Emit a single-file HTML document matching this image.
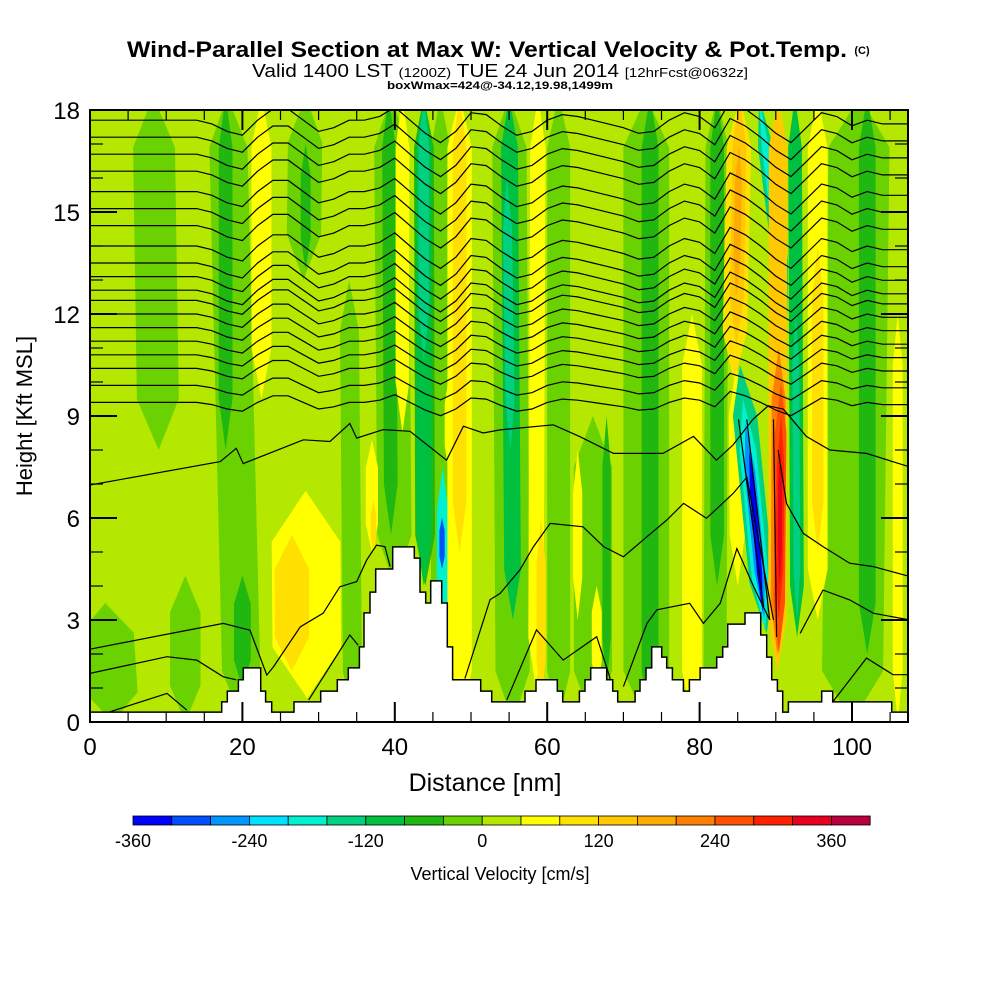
<!DOCTYPE html>
<html><head><meta charset="utf-8"><style>
html,body{margin:0;padding:0;background:#fff;}
svg{display:block;font-family:"Liberation Sans",sans-serif;}
</style></head><body>
<svg id="chart" width="1000" height="1000" viewBox="0 0 1000 1000" xmlns="http://www.w3.org/2000/svg">
<rect x="0" y="0" width="1000" height="1000" fill="#fff"/>
<g>
<text x="487" y="57" text-anchor="middle" font-size="22" font-weight="bold" textLength="720" lengthAdjust="spacingAndGlyphs">Wind-Parallel Section at Max W: Vertical Velocity &amp; Pot.Temp.</text>
<text x="862" y="54" text-anchor="middle" font-size="11" font-weight="bold">(C)</text>
<text x="500" y="77" text-anchor="middle" font-size="18" textLength="496" lengthAdjust="spacingAndGlyphs">Valid 1400 LST <tspan font-size="13">(1200Z)</tspan> TUE 24 Jun 2014 <tspan font-size="13">[12hrFcst@0632z]</tspan></text>
<text x="500" y="89" text-anchor="middle" font-size="11" font-weight="bold" textLength="226" lengthAdjust="spacingAndGlyphs">boxWmax=424@-34.12,19.98,1499m</text>
</g>
<defs><clipPath id="plotclip"><rect x="90" y="110" width="818" height="612"/></clipPath></defs>
<g id="field" clip-path="url(#plotclip)"></g>
<g id="contours" clip-path="url(#plotclip)"></g>
<g id="terrain" clip-path="url(#plotclip)"></g>
<g id="axes"></g>
<g id="colorbar"></g>
<text x="485" y="791" text-anchor="middle" font-size="25">Distance [nm]</text>
<text transform="translate(32,416) rotate(-90)" text-anchor="middle" font-size="22">Height [Kft MSL]</text>
<text x="500" y="880" text-anchor="middle" font-size="18">Vertical Velocity [cm/s]</text>
</svg>
<script>
// ---- data ----
const binColors = ["#0000ff","#0050ff","#0096ff","#00e1ff","#00f0d0","#00d080","#00c040","#20b810","#6ad200","#b4e800","#ffff00","#ffe000","#ffc800","#ffaa00","#ff8000","#ff5000","#ff2000","#e80020","#b80040"];
const binMin = -360, binStep = 40;
const cbTicks = [-360,-240,-120,0,120,240,360];
const xTicks = [0,20,40,60,80,100];
const yTicks = [0,3,6,9,12,15,18];
const backgroundW = 20;
// streak features: [xBottom nm, yBottom kft, xTop nm, yTop kft, width nm, w cm/s]
const streaks = [
 [9,8,8.3,18.4,5.5,-20],[3,0,2,3.5,7,-20],[12.5,0,12.5,4.3,4,-20],[20,0,18,18.4,5,-20],
 [28,13,28.3,18.4,4.5,-20],[34.5,0,34,13,2.5,-20],[40,4,39.5,18.4,4.5,-20],[46,0,46,18.4,2.5,-20],
 [55.5,0,55,18.4,4.5,-20],[61.5,0,61.5,18.4,3,-20],[73,0,73,18.4,6,-20],[82,0,82.3,18.4,3,-20],
 [100,0,101,18.4,8,-20],[66,0,66,9,5,-20],
 [73.5,0,73.5,18.4,2.2,-60],[82.3,4,82.3,18.4,1.8,-60],[102,2,102,18.4,2.2,-60],
 [17.8,8,17.8,18.4,1.8,-60],[20,1,20,4.3,2.2,-60],[28.3,13.3,28.3,17,1.3,-60],
 [39.5,5.5,39.2,18.4,1.8,-60],[44,4,43.8,18.4,2.6,-60],[67.8,1,67.8,9,1.1,-60],
 [43.8,4,43.8,18.4,2,-100],[43.8,10.6,43.8,18.4,1.4,-140],
 [55.5,3,55,18.4,2.2,-100],[55.2,8,54.7,16,1.2,-140],
 [46.2,2.5,46.3,7.5,1.5,-200],[46.2,4.5,46.2,6,0.7,-300],
 [22.5,9.5,22.5,18.4,2.6,60],[41,8.5,41,18.4,1.8,60],[48.5,0,48.5,18.4,3.2,60],[48.5,5,48.5,18.4,1.8,100],
 [58.5,1,58.8,18.4,2,60],[59.2,0.5,59.2,6,1.2,100],[79,0,79,12,2.6,60],[64,3,64,8,1.2,60],
 [85,4,84.8,10.5,2,60],[95.5,3,95.5,18.4,2.6,60],[95.5,5,95.5,14,1.5,100],[106,0,106,12,1.3,60],
 [37,5,37,8.3,1.6,60],[37.2,5,37.2,6.5,0.7,100],[28.5,0.7,28.3,6.8,9,60],[26.5,1.5,26.5,5.5,4.5,100],
 [47,7.5,47,10,0.9,60],[66.5,1,66.5,4,1.3,60],
 [84.5,10,85.3,18.4,3.2,100],[84.8,11,85.3,18.4,1.8,140],[84.8,12.5,85.2,17,0.9,180],
 [92.8,2.5,92.5,18.4,1.8,-100],[92.8,3,92.6,12,0.9,-140],
 [91.5,12,87.8,18.4,2,-140],[91,12.5,87.8,18.4,0.9,-200],
 [88.8,2.6,85.3,10.5,3.2,-140],[88.6,2.7,85.7,9.5,2.2,-200],[88.5,3,86,8.8,1.4,-260],[88.3,3.2,86.5,8,0.7,-340],
 [90.2,1.5,90.3,18.4,2.4,140],[90.2,2,90.4,11,1.8,200],[90.4,2,90.7,10,1.5,260],[90.4,3,90.7,9,1,300],[90.5,4,90.6,8,0.5,340]
];
// potential temperature contours: upper levels (kft at left edge) + displacement profile
const upperLevels = [17.7,17.2,16.7,16.2,15.6,15.1,14.6,14.0,13.5,13.1,12.7,12.4,12.0,11.6,11.2,10.8,10.4,9.9,9.4];
const dispX = [0,2,4,6,8,10,12,14,16,18,20,22,24,26,28,30,32,34,36,38,40,42,44,46,48,50,52,54,56,58,60,62,64,66,68,70,72,74,76,78,80,82,84,86,88,90,92,94,96,98,100,102,104,106,108];
const dispK = [0,0,0,0,0,0,0,0,-0.1,-0.3,-0.4,0,0.3,0.3,0,-0.3,-0.2,0,0,0.1,0.35,0,-0.35,-0.6,-0.3,0.2,0.15,-0.15,-0.4,-0.3,0,0.15,0.1,0,-0.1,-0.2,-0.35,-0.3,0,0.2,0.1,-0.2,0.5,0.3,0,-0.35,-0.6,-0.2,0.2,0.1,-0.15,0,-0.1,-0.1,-0.1];
const lowerLines = [
 [[0,6.97],[17.1,7.66],[19.2,8.05],[20.1,7.6],[28,8.3],[31.5,8.25],[34.1,8.78],[35,8.35],[38.5,8.6],[42,8.55],[46.8,7.7],[49,8.7],[51.6,8.5],[53.8,8.59],[60.8,8.74],[64.3,8.39],[68.7,7.9],[75.2,7.9],[79.2,8.4],[82.2,7.7],[84.4,8.15],[87,8.9],[89,9.3],[91,9.2],[94,8.4],[97.1,8.0],[101.9,7.9],[107.6,7.5]],
 [[0,2.14],[10.5,2.6],[17.5,2.9],[21,2.7],[23.2,1.38],[24.1,1.63],[27.6,2.8],[30.6,3.2],[32.8,3.98],[35,4.13],[36.3,4.76],[37.6,5.2],[38.7,5.16],[39.4,4.57]],
 [[49.2,1.28],[52.5,3.6],[53.8,3.78],[56.4,4.47],[58.2,5.16],[60.4,5.84],[64.7,5.74],[67.4,5.16],[70,4.86],[73.1,5.45],[75.7,5.94],[77.9,6.43],[80.9,5.99],[84.4,6.72],[86.2,7.2],[88.2,4.8],[89.7,3.0]],
 [[90.3,8.0],[91.4,6.43],[93.6,5.55],[96.2,5.16],[99.7,4.67],[102.8,4.57],[107.6,4.28]],
 [[0,1.43],[10.1,1.92],[14,1.82],[17.5,1.33],[19.2,1.24]],
 [[2.6,0.3],[10.1,0.84],[12.7,0.35]],
 [[28.7,0.65],[34.1,2.56],[35.2,2.26]],
 [[54.7,0.65],[58.6,2.71],[62.1,1.82],[66.5,2.51],[68.2,1.33],[68.7,0.65]],
 [[70,1.04],[73.1,2.9],[74.4,3.3],[78.7,3.49],[80.5,2.9],[82.7,3.49],[84.9,5.1],[87.1,3.98],[89.2,3.0]],
 [[93.2,2.61],[96.2,3.88],[99.7,3.59],[102.8,3.2],[107.6,3.0]],
 [[97.5,0.6],[101.9,1.88],[105.4,1.39],[107.6,1.39]],
 [[89.7,8.9],[90.1,2.5]],
 [[85.1,8.9],[88.4,3.4]],
 [[86.2,8.9],[89.2,3.0]]
];
// terrain steps: [start nm, height kft]
const terrain = [[0,0.29],[17.28,0.59],[18.02,0.91],[19.47,1.24],[20.12,1.59],[22.4,0.91],[23.05,0.59],[23.84,0.29],[26.77,0.59],[30.27,0.91],[32.46,1.24],[33.9,1.59],[35.35,2.21],[35.96,3.21],[36.75,3.82],[37.49,4.5],[39.72,5.15],[42.56,4.82],[43.31,3.82],[44.05,3.5],[44.71,4.15],[46.15,3.5],[46.89,2.21],[47.59,1.24],[51.27,0.91],[52.71,0.59],[57.09,0.91],[58.53,1.24],[61.33,0.91],[62.03,0.59],[64.22,0.91],[64.96,1.24],[65.71,1.59],[67.81,1.24],[68.6,0.91],[69.25,0.59],[71.53,0.91],[72.18,1.24],[72.97,1.59],[73.71,2.21],[75.03,1.91],[75.68,1.59],[76.43,1.24],[77.87,0.91],[78.66,1.24],[80.06,1.59],[82.24,1.91],[83.03,2.21],[83.69,2.88],[85.96,3.21],[88.02,2.56],[88.8,1.91],[89.46,1.24],[90.21,0.91],[90.9,0.29],[91.65,0.59],[96.02,0.91],[97.47,0.59],[105.21,0.29]];

// ---- scales ----
const NS = "http://www.w3.org/2000/svg";
const X = nm => 90 + nm * 7.62;
const Y = k => 722 - k * 34;
const colorFor = w => { let i = Math.floor((w - binMin) / binStep); i = Math.max(0, Math.min(binColors.length - 1, i)); return binColors[i]; };
function mk(tag, attrs, parent){ const e = document.createElementNS(NS, tag); for (const k in attrs) e.setAttribute(k, attrs[k]); parent.appendChild(e); return e; }

// field
const field = document.getElementById('field');
const bg = mk('rect', {x:90, y:110, width:818, height:612, fill:colorFor(backgroundW)}, field);


streaks.forEach(s => {
  const [xb, yb, xt, yt, w, v] = s;
  const t = Math.min(1.5, (yt - yb) * 0.25);
  const cx = y => xb + (xt - xb) * (y - yb) / (yt - yb);
  const pts = [[cx(yb), yb],[cx(yb+t)-w/2, yb+t],[cx(yt-t)-w/2, yt-t],[cx(yt), yt],[cx(yt-t)+w/2, yt-t],[cx(yb+t)+w/2, yb+t]];
  const p = mk('polygon', {points: pts.map(q => X(q[0]).toFixed(1)+','+Y(q[1]).toFixed(1)).join(' '), fill: colorFor(v)}, field);
  
  
});

// contours
const cg = document.getElementById('contours');
upperLevels.forEach(lv => {
  const scale = 0.6 + 0.5 * Math.max(0, Math.min(1, (lv - 9) / 4));
  const d = dispX.map((x, i) => (i ? 'L' : 'M') + X(x).toFixed(1) + ',' + Y(lv + dispK[i] * scale).toFixed(1)).join('');
  const p = mk('path', {d: d, fill:'none', stroke:'#000', 'stroke-width':1.2}, cg);
  
  
});
lowerLines.forEach(line => {
  const d = line.map((q, i) => (i ? 'L' : 'M') + X(q[0]).toFixed(1) + ',' + Y(q[1]).toFixed(1)).join('');
  const p = mk('path', {d: d, fill:'none', stroke:'#000', 'stroke-width':1.2}, cg);
  
  
});

// terrain
const tg = document.getElementById('terrain');
let td = 'M' + X(0) + ',' + Y(-1);
terrain.forEach((s, i) => {
  const xe = i < terrain.length - 1 ? terrain[i+1][0] : 108;
  td += 'L' + X(s[0]).toFixed(1) + ',' + Y(s[1]).toFixed(1) + 'L' + X(xe).toFixed(1) + ',' + Y(s[1]).toFixed(1);
});
td += 'L' + X(108) + ',' + Y(-1) + 'Z';
const tp = mk('path', {d: td, fill:'#fff', stroke:'#000', 'stroke-width':1.5}, tg);



// axes
const ag = document.getElementById('axes');
const frame = mk('rect', {x:90, y:110, width:818, height:612, fill:'none', stroke:'#000', 'stroke-width':2}, ag);


for (let k = 0; k <= 18; k++) {
  const len = k % 3 === 0 ? 27 : 13;
  const l1 = mk('line', {x1:90, x2:90+len, y1:Y(k), y2:Y(k), stroke:'#000', 'stroke-width': k%3===0?2:1.2}, ag);
  
  
  const l2 = mk('line', {x1:908, x2:908-len, y1:Y(k), y2:Y(k), stroke:'#000', 'stroke-width': k%3===0?2:1.2}, ag);
  
  
}
for (let n = 0; n <= 105; n += 5) {
  const len = n % 20 === 0 ? 20 : 10;
  const l1 = mk('line', {x1:X(n), x2:X(n), y1:722, y2:722-len, stroke:'#000', 'stroke-width': n%20===0?2:1.2}, ag);
  
  
  const l2 = mk('line', {x1:X(n), x2:X(n), y1:110, y2:110+len, stroke:'#000', 'stroke-width': n%20===0?2:1.2}, ag);
  
  
}
yTicks.forEach(v => {
  const t = mk('text', {x:80, y:Y(v)+9, 'text-anchor':'end', 'font-size':24}, ag);
  t.textContent = v;
  
  
});
xTicks.forEach(v => {
  const t = mk('text', {x:X(v), y:755, 'text-anchor':'middle', 'font-size':24}, ag);
  t.textContent = v;
  
  
});

// colorbar
const cb = document.getElementById('colorbar');
const cbX = v => 133 + (v - binMin) / binStep * 38.8;
binColors.forEach((c, i) => {
  const r = mk('rect', {x: cbX(binMin + i*binStep), y:816, width:38.8, height:9, fill:c, stroke:'#000', 'stroke-width':0.8}, cb);
  
  
});
cbTicks.forEach(v => {
  const t = mk('text', {x: cbX(v), y:847, 'text-anchor':'middle', 'font-size':18}, cb);
  t.textContent = v;
  
  
});
</script>
</body></html>
